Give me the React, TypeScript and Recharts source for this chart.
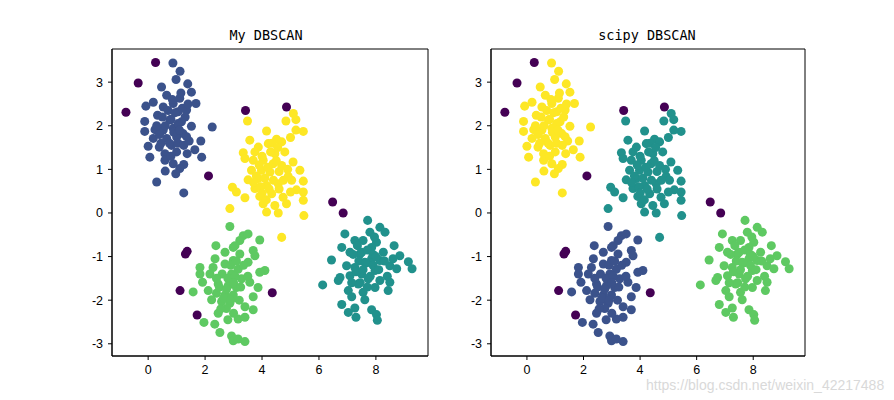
import { ScatterChart, Scatter, XAxis, YAxis, ZAxis, ReferenceArea } from "recharts";

// cluster points (x, y)
const blobTopLeft: [number, number][] = [
  [0.87, 3.44], [1.12, 3.25], [0.98, 3.06], [1.39, 2.96], [0.47, 2.89], [1.52, 2.77],
  [0.65, 2.7], [1.68, 2.51], [0.18, 2.54], [-0.08, 2.45], [1.11, 2.63], [0.88, 2.51],
  [0.53, 2.43], [1.35, 2.36], [0.33, 2.24], [1.05, 2.32], [-0.12, 2.1], [2.25, 1.97],
  [0.76, 2.13], [1.17, 2.09], [1.52, 1.99], [-0.12, 1.87], [0.24, 1.91], [0.53, 1.9],
  [0.88, 1.94], [1.23, 1.82], [0.18, 1.71], [0.65, 1.71], [1.0, 1.74], [1.44, 1.65],
  [1.85, 1.65], [0.0, 1.53], [0.39, 1.51], [0.82, 1.55], [1.64, 1.45], [1.37, 1.36],
  [0.59, 1.36], [0.06, 1.28], [1.88, 1.28], [0.59, 1.21], [0.88, 1.13], [1.25, 1.11],
  [1.11, 1.02], [0.6, 0.96], [0.97, 0.9], [0.3, 0.71], [1.25, 0.46],
  [0.7, 2.35], [0.95, 2.3], [1.2, 2.4], [0.8, 2.15], [1.05, 2.05], [1.3, 2.2],
  [0.6, 2.0], [0.9, 1.85], [1.1, 1.9], [0.75, 1.6], [1.05, 1.6], [1.25, 1.55],
  [0.4, 1.8], [0.5, 2.2], [1.4, 2.5], [0.85, 2.6], [1.15, 2.75], [0.3, 2.0],
  [1.0, 1.4], [0.8, 1.3], [1.35, 1.75], [0.45, 1.6],
];

const blobCenter: [number, number][] = [
  [3.49, 2.11], [5.1, 2.28], [4.84, 2.11], [5.19, 2.14], [5.45, 1.87], [5.19, 1.9],
  [4.16, 1.88], [5.0, 1.73], [3.57, 1.67], [4.51, 1.69], [4.69, 1.63], [4.22, 1.59],
  [3.87, 1.51], [3.34, 1.38], [4.8, 1.4], [4.45, 1.36], [3.4, 1.25], [3.69, 1.21],
  [4.04, 1.21], [5.09, 1.17], [4.39, 1.13], [4.69, 1.09], [5.33, 0.98], [3.63, 0.98],
  [3.98, 0.98], [4.28, 0.94], [4.92, 0.84], [3.51, 0.76], [3.87, 0.79], [5.45, 0.73],
  [4.57, 0.67], [5.04, 0.75], [4.16, 0.63], [2.96, 0.59], [3.75, 0.56], [5.21, 0.53],
  [3.1, 0.48], [5.45, 0.48], [3.4, 0.35], [4.34, 0.44], [3.92, 0.38], [4.74, 0.36],
  [5.0, 0.48], [5.45, 0.29], [4.04, 0.21], [4.86, 0.21], [4.45, 0.17], [2.87, 0.1],
  [4.16, 0.02], [4.57, 0.0], [5.47, -0.06], [4.69, -0.56],
  [4.0, 1.3], [4.3, 1.4], [4.5, 1.2], [3.9, 1.1], [4.2, 1.05], [4.6, 0.95],
  [3.8, 0.85], [4.1, 0.8], [4.4, 0.75], [3.95, 0.6], [4.25, 0.55], [4.6, 0.55],
  [3.7, 0.7], [4.75, 0.75], [4.0, 0.45], [4.35, 1.6], [3.75, 1.4], [4.55, 1.5],
  [4.15, 0.3], [4.9, 1.0],
];

const blobBottomLeft: [number, number][] = [
  [2.87, -0.31], [3.34, -0.52], [3.51, -0.48], [3.92, -0.62], [3.22, -0.63], [2.38, -0.75],
  [2.99, -0.79], [3.69, -0.86], [2.7, -0.9], [3.22, -0.94], [3.75, -0.98], [2.99, -1.09],
  [2.7, -1.17], [3.51, -1.13], [1.82, -1.25], [2.28, -1.25], [3.16, -1.29], [4.1, -1.32],
  [3.92, -1.36], [1.82, -1.4], [2.17, -1.4], [2.93, -1.4], [3.28, -1.51], [1.91, -1.59],
  [2.46, -1.63], [3.57, -1.59], [2.81, -1.67], [3.1, -1.71], [1.58, -1.81], [2.11, -1.78],
  [3.86, -1.71], [2.4, -1.84], [2.7, -1.88], [2.99, -1.88], [3.69, -1.92], [2.23, -1.99],
  [2.58, -2.03], [2.87, -2.07], [3.4, -2.15], [3.69, -2.22], [2.46, -2.3], [2.75, -2.19],
  [3.16, -2.43], [3.4, -2.39], [1.96, -2.51], [2.34, -2.55], [2.52, -2.74], [2.93, -2.82],
  [2.99, -2.93], [3.4, -2.95], [3.16, -2.89],
  [2.9, -1.2], [3.1, -1.1], [2.6, -1.4], [2.8, -1.5], [3.05, -1.45], [2.5, -1.7],
  [2.75, -1.75], [3.0, -1.6], [3.25, -1.7], [2.65, -1.95], [2.9, -2.0], [3.2, -2.0],
  [2.4, -1.5], [3.35, -1.2], [2.55, -2.2], [3.0, -2.3], [2.8, -2.45], [3.5, -1.45],
  [2.35, -1.05], [3.05, -0.75],
];

const blobRight: [number, number][] = [
  [7.71, -0.17], [8.14, -0.33], [7.79, -0.44], [6.91, -0.48], [8.32, -0.44], [7.26, -0.63],
  [7.55, -0.63], [8.02, -0.67], [8.64, -0.75], [6.8, -0.79], [7.85, -0.79], [7.09, -0.9],
  [8.26, -0.9], [7.44, -0.94], [8.84, -0.98], [6.44, -1.08], [7.85, -1.05], [8.14, -1.09],
  [9.14, -1.12], [7.61, -1.13], [6.97, -1.21], [8.49, -1.21], [7.26, -1.25], [9.27, -1.28],
  [8.73, -1.28], [7.97, -1.32], [6.74, -1.48], [7.5, -1.4], [7.09, -1.44], [7.73, -1.51],
  [8.14, -1.55], [8.49, -1.59], [6.13, -1.65], [6.68, -1.55], [7.38, -1.63], [7.97, -1.71],
  [8.43, -1.78], [7.03, -1.78], [7.55, -1.82], [7.15, -1.92], [7.61, -1.99], [6.8, -2.1],
  [7.26, -2.18], [7.85, -2.22], [7.03, -2.28], [7.3, -2.39], [8.02, -2.33], [8.05, -2.46],
  [7.5, -0.9], [7.7, -0.85], [7.9, -0.95], [7.4, -1.1], [7.65, -1.15], [7.9, -1.2],
  [8.1, -1.3], [7.3, -1.35], [7.55, -1.3], [7.8, -1.45], [8.0, -1.0], [7.2, -0.95],
  [8.3, -1.1], [7.45, -1.6], [7.7, -1.7], [7.35, -0.75], [8.4, -1.45], [7.95, -0.55],
  [7.15, -1.6], [8.6, -1.05],
];

const noise: [number, number][] = [
  [0.26, 3.45], [-0.35, 2.98], [-0.78, 2.31], [2.12, 0.85], [3.42, 2.35], [4.86, 2.43],
  [6.48, 0.25], [6.85, 0.0], [1.31, -0.94], [1.37, -0.88], [1.12, -1.78], [1.72, -2.34],
  [4.36, -1.83],
];

const xTicks = [0, 2, 4, 6, 8];
const yTicks = [-3, -2, -1, 0, 1, 2, 3];
const xDomain: [number, number] = [-1.27, 9.83];
const yDomain: [number, number] = [-3.28, 3.76];

const viridis = {
  noise: "#440154",
  navy: "#3b528b",
  teal: "#21918c",
  green: "#5ec962",
  yellow: "#fde725",
};

const toRows = (pts: [number, number][]) => pts.map(([x, y]) => ({ x, y }));

type Panel = {
  title: string;
  titleX: number;
  left: number;
  margin: { top: number; right: number; bottom: number; left: number };
  colors: { topLeft: string; center: string; bottomLeft: string; right: string };
};

const panels: Panel[] = [
  {
    title: "My DBSCAN",
    titleX: 266,
    left: 0,
    margin: { top: 49, right: 19, bottom: 14, left: 72 },
    colors: { topLeft: viridis.navy, center: viridis.yellow, bottomLeft: viridis.green, right: viridis.teal },
  },
  {
    title: "scipy DBSCAN",
    titleX: 647,
    left: 447,
    margin: { top: 49, right: 89, bottom: 14, left: 4 },
    colors: { topLeft: viridis.yellow, center: viridis.teal, bottomLeft: viridis.navy, right: viridis.green },
  },
];

const tickFont = { fontSize: 12.5, fill: "#000", fontFamily: "Liberation Sans, Arial, sans-serif" };

function DbscanPanel({ p }: { p: Panel }) {
  const series = [
    { pts: blobTopLeft, color: p.colors.topLeft },
    { pts: blobCenter, color: p.colors.center },
    { pts: blobBottomLeft, color: p.colors.bottomLeft },
    { pts: blobRight, color: p.colors.right },
    { pts: noise, color: viridis.noise },
  ];
  return (
    <div style={{ position: "absolute", left: p.left, top: 0, width: 447, height: 400 }}>
      <ScatterChart width={447} height={400} margin={p.margin}>
        <XAxis
          type="number"
          dataKey="x"
          domain={xDomain}
          ticks={xTicks}
          allowDataOverflow
          height={30}
          stroke="#000"
          tickSize={4}
          tickMargin={5}
          tick={tickFont}
        />
        <YAxis
          type="number"
          dataKey="y"
          domain={yDomain}
          ticks={yTicks}
          allowDataOverflow
          width={40}
          stroke="#000"
          tickSize={4}
          tickMargin={5}
          tick={tickFont}
        />
        <ZAxis range={[113, 113]} />
        {series.map((s, i) => (
          <Scatter key={i} data={toRows(s.pts)} fill={s.color} isAnimationActive={false} />
        ))}
        {/* frame: top and right spines */}
        <ReferenceArea
          x1={xDomain[0]}
          x2={xDomain[1]}
          y1={yDomain[0]}
          y2={yDomain[1]}
          fill="none"
          fillOpacity={0}
          stroke="#000"
          strokeOpacity={1}
          strokeWidth={1}
          ifOverflow="visible"
        />
      </ScatterChart>
      <div
        style={{
          position: "absolute",
          left: p.titleX - p.left - 100,
          width: 200,
          top: 27,
          textAlign: "center",
          fontFamily: "DejaVu Sans Mono, monospace",
          fontSize: 13.5,
          color: "#000",
        }}
      >
        {p.title}
      </div>
    </div>
  );
}

export default function App() {
  return (
    <div style={{ position: "absolute", left: 0, top: 0, width: 894, height: 400, background: "#fff" }}>
      {panels.map((p) => (
        <DbscanPanel key={p.title} p={p} />
      ))}
      <div
        style={{
          position: "absolute",
          left: 646,
          top: 377,
          fontFamily: "Liberation Sans, Arial, sans-serif",
          fontSize: 14,
          color: "#d9d9d9",
        }}
      >
        https://blog.csdn.net/weixin_42217488
      </div>
    </div>
  );
}
